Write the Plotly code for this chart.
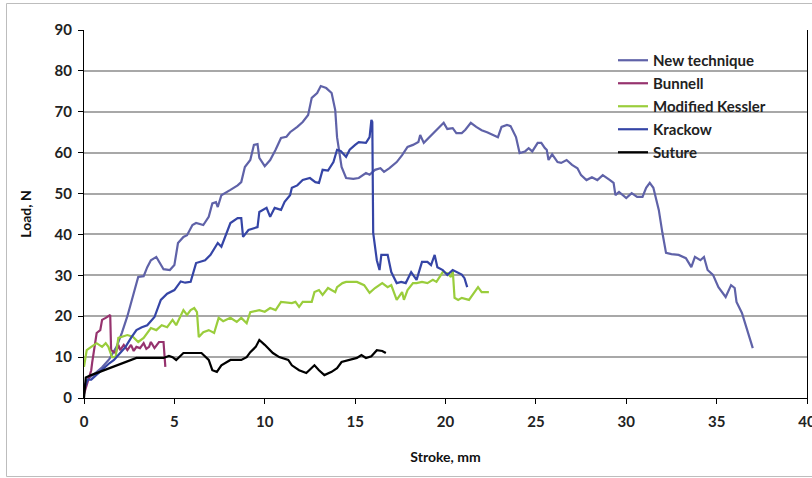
import plotly.graph_objects as go

# ---- data (stroke in mm, load in N) ----
new_x = [0, 0.3, 0.6, 1.0, 1.4, 1.8, 2.1, 2.4, 2.8, 3.0, 3.3, 3.5, 3.7, 4.0, 4.4, 4.75, 5.0, 5.2, 5.5, 5.7,
         6.0, 6.2, 6.6, 6.9, 7.1, 7.3, 7.4, 7.6, 8.1, 8.5, 8.7, 8.9, 9.2, 9.4, 9.6, 9.7, 10.0, 10.3, 10.6,
         10.9, 11.2, 11.4, 11.8, 12.1, 12.4, 12.6, 12.9, 13.1, 13.4, 13.7, 13.9, 14.0, 14.25, 14.5, 14.9,
         15.2, 15.6, 15.8, 16.1, 16.4, 16.6, 16.9, 17.3, 17.6, 17.9, 18.2, 18.5, 18.6, 18.8, 19.1, 19.5,
         19.9, 20.1, 20.4, 20.6, 20.9, 21.1, 21.4, 21.7, 22.0, 22.3, 22.6, 22.9, 23.1, 23.4, 23.6, 23.9,
         24.1, 24.4, 24.6, 24.8, 25.1, 25.3, 25.5, 25.6, 25.7, 25.9, 26.2, 26.4, 26.7, 27.0, 27.3, 27.5,
         27.8, 28.1, 28.4, 28.7, 29.1, 29.3, 29.4, 29.6, 30.0, 30.3, 30.6, 30.9, 31.1, 31.3, 31.5, 31.8,
         32.0, 32.2, 32.5, 32.9, 33.3, 33.6, 33.8, 34.1, 34.3, 34.5, 34.8, 35.1, 35.5, 35.8, 36.0, 36.1,
         36.4, 36.7, 37.0]
new_y = [3, 5, 6, 7.5, 9.5, 12.5, 16, 20, 26.4, 29.6, 29.8, 32, 33.7, 34.5, 31.5, 31.3, 32.5, 37.9, 39.4, 39.8,
         42.3, 42.8, 42.3, 44.3, 47.6, 47.9, 46.7, 49.6, 50.9, 52, 52.8, 56.5, 58.2, 61.9, 62.1, 58.7, 56.7,
         58.2, 60.7, 63.6, 63.9, 65, 66.3, 67.5, 69.2, 73.4, 74.6, 76.3, 75.8, 74.6, 70.4, 63.8, 56.5, 53.8,
         53.6, 53.8, 55, 54.6, 55.8, 56.2, 55.3, 56.2, 57.7, 59.4, 61.4, 61.9, 62.6, 64.3, 62.4, 63.8, 65.5,
         67.3, 65.8, 66, 64.8, 64.8, 65.6, 67.3, 66.3, 65.5, 65, 64.3, 63.8, 66.3, 66.8, 66.5, 63.8, 59.9,
         60.3, 61.1, 60.3, 62.4, 62.4, 61.1, 60.7, 58.2, 59.6, 57.7, 57.5, 58.2, 57, 56.2, 54.5, 53.3, 54,
         53.3, 54.5, 53.3, 52.6, 49.6, 50.4, 48.9, 50.1, 49.2, 49.2, 51.4, 52.6, 51.4, 46, 40.4, 35.5, 35.2,
         35, 34.2, 32, 34.5, 33.7, 34.5, 31.3, 30.1, 27.1, 24.7, 27.6, 26.9, 23.5, 20.8, 16.6, 12.2]

bun_x = [0, 0.2, 0.4, 0.45, 0.65, 0.7, 0.9, 1.0, 1.2, 1.4, 1.45, 1.5, 1.75, 1.9, 2.0, 2.2, 2.4, 2.6, 2.75,
         2.9, 3.1, 3.3, 3.45, 3.6, 3.7, 3.9, 4.15, 4.4, 4.45, 4.5]
bun_y = [1, 4, 6.8, 8.6, 14.2, 15.9, 16.6, 19.1, 19.6, 20.3, 20.3, 11.7, 11, 13, 11.7, 13, 11.7, 13, 11.5,
         12.5, 12.2, 13.4, 12, 12.5, 13.7, 12.2, 13.7, 13.7, 10, 7.6]

kes_x = [0, 0.15, 0.4, 0.7, 1.0, 1.2, 1.35, 1.55, 1.75, 1.9, 2.4, 2.7, 3.0, 3.3, 3.7, 4.0, 4.3, 4.6, 4.9, 5.1,
         5.5, 5.7, 5.9, 6.1, 6.25, 6.35, 6.6, 6.9, 7.2, 7.45, 7.7, 8.1, 8.45, 8.7, 9.0, 9.2, 9.7, 10.0, 10.3,
         10.6, 10.9, 11.5, 11.7, 11.9, 12.1, 12.6, 12.75, 13.0, 13.2, 13.5, 13.9, 14.0, 14.3, 14.5, 15.1,
         15.5, 15.8, 16.1, 16.5, 16.8, 17.0, 17.3, 17.6, 17.7, 17.9, 18.2, 18.4, 18.7, 19.0, 19.3, 19.5, 19.7,
         19.85, 20.1, 20.3, 20.4, 20.5, 20.7, 20.9, 21.3, 21.5, 21.8, 22.0, 22.4]
kes_y = [7.6, 11.7, 12.5, 13.4, 12.5, 13.4, 12.5, 10, 10, 14.7, 15.4, 15, 13.7, 14.7, 17.1, 16.6, 17.8, 17.3,
         19.1, 17.8, 21.5, 20.3, 21.5, 22, 21, 14.9, 16.1, 16.6, 15.9, 19.6, 18.8, 19.6, 18.6, 19.6, 18.3, 21,
         21.5, 21.1, 22, 21.5, 23.5, 23.2, 23.5, 22.3, 23.5, 23.5, 25.9, 26.4, 25.2, 26.9, 25.9, 27.1, 28.1,
         28.4, 28.4, 27.6, 25.7, 26.9, 28.1, 27.1, 27.6, 24, 25.9, 24, 26.4, 28.1, 28.1, 28.4, 28.1, 28.9,
         28.4, 29.6, 30.8, 30.5, 29.6, 31.3, 24.5, 24, 24.5, 24, 25.2, 27.1, 25.9, 25.9]

kra_x = [0, 0.2, 0.4, 0.7, 1.1, 1.4, 1.66, 2.0, 2.3, 2.6, 2.9, 3.2, 3.5, 3.9, 4.25, 4.6, 5.0, 5.35, 5.6, 5.9,
         6.2, 6.7, 7.0, 7.4, 7.6, 8.1, 8.5, 8.7, 8.8, 9.1, 9.6, 9.7, 10.1, 10.3, 10.55, 10.9, 11.1, 11.4,
         11.5, 11.8, 12.1, 12.5, 12.8, 13.0, 13.2, 13.5, 13.8, 14.0, 14.2, 14.5, 14.7, 15.0, 15.2, 15.6,
         15.8, 15.9, 15.95, 16.0, 16.2, 16.35, 16.45, 16.8, 17.0, 17.3, 17.55, 17.8, 18.1, 18.4, 18.7, 19.0,
         19.2, 19.4, 19.55, 19.85, 20.1, 20.4, 20.65, 20.9, 21.05, 21.2]
kra_y = [2, 4.5, 4.5, 5.6, 7.3, 8.5, 9.3, 11, 12.5, 14.7, 16.6, 17.3, 17.8, 19.8, 24, 25.5, 26.4, 28.5, 28.2,
         28.4, 33, 33.7, 35, 37.9, 37, 42.8, 44, 44, 39.4, 41.1, 41.8, 45.5, 46.5, 44.3, 46.5, 46, 48, 49.6,
         51.4, 52, 53.3, 53.8, 52.8, 52.6, 55.8, 55.6, 57.7, 60.7, 60.4, 59, 60.7, 61.9, 62.6, 62.4, 63.8,
         68, 67.5, 40.4, 33.7, 31.3, 35, 35, 30.8, 28.1, 28.4, 28.1, 30.8, 28.9, 33.3, 33.3, 32.5, 35, 32,
         31.3, 30.1, 31.3, 30.8, 30.2, 29.3, 27.1]

sut_x = [0, 0.1, 0.4, 0.7, 1.1, 1.5, 1.8, 2.2, 2.6, 2.9, 4.4, 4.7, 4.9, 5.1, 5.5, 6.2, 6.5, 6.9, 7.1, 7.35, 7.6,
         8.1, 8.7, 9.0, 9.2, 9.5, 9.7, 10.0, 10.45, 10.8, 11.3, 11.5, 11.9, 12.3, 12.75, 13.0, 13.3, 13.7,
         14.0, 14.25, 14.7, 15.1, 15.35, 15.6, 15.9, 16.2, 16.5, 16.7]
sut_y = [0, 5, 5.6, 6.1, 6.8, 7.6, 8, 8.6, 9.3, 9.8, 9.8, 10.3, 10, 9.3, 11, 11, 11, 9.3, 6.8, 6.4, 8, 9.3, 9.3,
         10, 11.2, 12.5, 14.2, 13, 11, 10, 9.3, 8, 6.8, 6.1, 8, 6.8, 5.6, 6.4, 7.3, 8.8, 9.3, 9.8, 10.5, 9.8,
         10.2, 11.7, 11.5, 11]

series = [
    ("New technique", new_x, new_y, "#5f62a8"),
    ("Bunnell", bun_x, bun_y, "#96336e"),
    ("Modified Kessler", kes_x, kes_y, "#9acd3c"),
    ("Krackow", kra_x, kra_y, "#3545a6"),
    ("Suture", sut_x, sut_y, "#000000"),
]

fig = go.Figure()
for i, (name, xs, ys, col) in enumerate(series):
    fig.add_trace(go.Scatter(x=xs, y=ys, mode="lines", name=name, legendgroup="g%d" % i,
                             line=dict(color=col, width=2.2)))

L, R, T, B = 84, 807, 30, 398
W, H = 812, 478

def px_x(p):
    return (p - L) / (R - L)

def px_y(p):
    return (B - p) / (B - T)

FAM = "Lato, Open Sans, sans-serif"
tickfont = dict(family=FAM, size=15, color="#222", weight="bold")
titlefont = dict(family=FAM, size=14, color="#111", weight="bold")

fig.update_layout(
    width=W, height=H,
    margin=dict(l=L, r=W - R, t=T, b=H - B, autoexpand=False),
    paper_bgcolor="white", plot_bgcolor="white",
    showlegend=True,
    legend=dict(x=px_x(613), y=px_y(44), xanchor="left", yanchor="top",
                bgcolor="rgba(0,0,0,0)", borderwidth=0,
                font=dict(family=FAM, size=15, color="#222", weight="bold"),
                tracegroupgap=0.5, itemwidth=30),
    xaxis=dict(range=[0, 40], dtick=5, tick0=0, showgrid=False, zeroline=False,
               showline=True, linecolor="#000", linewidth=1,
               ticks="outside", ticklen=5, tickcolor="#000",
               tickfont=tickfont, ticklabelstandoff=5, ticklabeloverflow="allow",
               title=dict(text="Stroke, mm", font=titlefont, standoff=23)),
    yaxis=dict(range=[0, 90], dtick=10, tick0=0, showgrid=True, gridcolor="#a8a8a8", gridwidth=1.5,
               zeroline=False, showline=True, linecolor="#000", linewidth=1, mirror=True,
               ticks="outside", ticklen=5, tickcolor="#000",
               tickfont=tickfont, ticklabelstandoff=3,
               title=dict(text="Load, N", font=titlefont, standoff=19)),
)

# white legend panel hiding the gridlines behind the legend
fig.add_shape(type="rect", xref="paper", yref="paper", layer="between",
              x0=px_x(600), x1=px_x(782), y0=px_y(163), y1=px_y(44),
              fillcolor="white", line=dict(width=0))

# outer chart frame (partially cropped in the reference)
frame = dict(color="#bdbdbd", width=1)
fig.add_shape(type="line", xref="paper", yref="paper", x0=px_x(6.5), x1=px_x(830),
              y0=px_y(3.5), y1=px_y(3.5), line=frame)
fig.add_shape(type="line", xref="paper", yref="paper", x0=px_x(6.5), x1=px_x(6.5),
              y0=px_y(3.5), y1=px_y(476.5), line=frame)
fig.add_shape(type="line", xref="paper", yref="paper", x0=px_x(6.5), x1=px_x(830),
              y0=px_y(476.5), y1=px_y(476.5), line=frame)

fig.write_html("out.html", config={"displayModeBar": False},
               post_script="document.body.style.margin='0';document.body.style.overflow='hidden';")
